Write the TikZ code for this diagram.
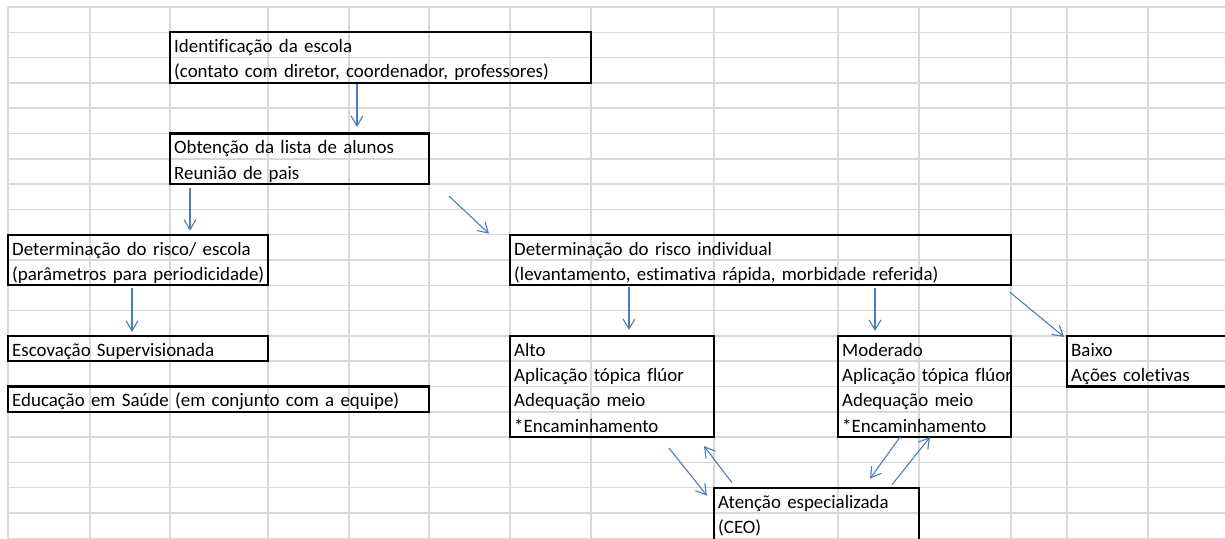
\documentclass[tikz,border=0pt]{standalone}
\usepackage{fontspec}
\setmainfont[Ligatures=CommonOff]{Carlito}
\usetikzlibrary{arrows.meta,calc}
\definecolor{grade}{RGB}{217,217,217}
\definecolor{azul}{RGB}{74,126,187}
\tikzset{
	caixa/.style={draw=black, line width=2.2pt, anchor=north west, inner sep=0pt, outer sep=0pt},
	texto/.style={anchor=base west, inner sep=0pt, align=left, text width=600pt,
		font=\fontsize{18.9}{25.3}\selectfont},
	seta/.style={draw=azul, line width=1.1pt, -{Straight Barb[length=10pt,width=12pt]}},
	linha/.style={draw=grade, line width=1.5pt}
}
\begin{document}
\begin{tikzpicture}[x=1pt, y=-1pt]
	\useasboundingbox (0,0) rectangle (1225,538);
	\clip (0,0) rectangle (1225,538);
	% Gitter der Tabelle
	\foreach \k in {0,...,21}
		\draw[linha] (8, 7+25.3*\k) -- (1225, 7+25.3*\k);
	\foreach \x in {8,90,170,268,349,429,510,591,714,838,919,1011,1067,1148}
		\draw[linha] (\x, 7) -- (\x, 538);

	% Kaesten
	\node[caixa, minimum width=421pt, minimum height=50.6pt] (ident) at (170, 32.3) {};
	\node[caixa, minimum width=259pt, minimum height=50.6pt] (lista) at (170, 133.5) {};
	\node[caixa, minimum width=260pt, minimum height=50.6pt] (rescola) at (8, 234.7) {};
	\node[caixa, minimum width=501pt, minimum height=50.6pt] (rindiv) at (510, 234.7) {};
	\node[caixa, minimum width=260pt, minimum height=25.3pt] (escov) at (8, 335.9) {};
	\node[caixa, minimum width=421pt, minimum height=25.3pt] (educ) at (8, 386.5) {};
	\node[caixa, minimum width=204pt, minimum height=101.2pt] (alto) at (510, 335.9) {};
	\node[caixa, minimum width=173pt, minimum height=101.2pt] (moder) at (838, 335.9) {};
	\node[caixa, minimum width=200pt, minimum height=50.6pt] (baixo) at (1067, 335.9) {};
	\node[caixa, minimum width=205pt, minimum height=80pt] (ceo) at (714, 487.7) {};

	% Texte
	\node[texto] (identtxt) at ($(ident.north west)+(4,20.3)$)
		{Identificação da escola\\(contato com diretor, coordenador, professores)};
	\node[texto] (listatxt) at ($(lista.north west)+(4,20.3)$)
		{Obtenção da lista de alunos\\Reunião de pais};
	\node[texto] (rescolatxt) at ($(rescola.north west)+(4,20.3)$)
		{Determinação do risco/ escola\\(parâmetros para periodicidade)};
	\node[texto] (rindivtxt) at ($(rindiv.north west)+(4,20.3)$)
		{Determinação do risco individual\\(levantamento, estimativa rápida, morbidade referida)};
	\node[texto] (escovtxt) at ($(escov.north west)+(4,20.3)$) {Escovação Supervisionada};
	\node[texto] (eductxt) at ($(educ.north west)+(4,20.3)$) {Educação em Saúde (em conjunto com a equipe)};
	\node[texto] (altotxt) at ($(alto.north west)+(4,20.3)$)
		{Alto\\Aplicação tópica flúor\\Adequação meio\\{*}Encaminhamento};
	\node[texto] (modertxt) at ($(moder.north west)+(4,20.3)$)
		{Moderado\\Aplicação tópica flúor\\Adequação meio\\{*}Encaminhamento};
	\node[texto] (baixotxt) at ($(baixo.north west)+(4,20.3)$) {Baixo\\Ações coletivas};
	\node[texto] (ceotxt) at ($(ceo.north west)+(4,20.3)$) {Atenção especializada\\(CEO)};

	% Pfeile
	\draw[seta] ($(ident.south west)+(187,1.5)$) -- ($(lista.north west)+(187,-6.5)$);
	\draw[seta] ($(lista.south west)+(20,4)$) -- ($(rescola.north west)+(182,-4)$);
	\draw[seta] ($(lista.south east)+(20,12)$) -- ($(rindiv.north west)+(-21,-1)$);
	\draw[seta] ($(rescola.south west)+(124,3)$) -- ($(escov.north west)+(124,-4)$);
	\draw[seta] ($(rindiv.south west)+(119,2)$) -- ($(alto.north west)+(119,-6)$);
	\draw[seta] ($(rindiv.south west)+(365,3)$) -- ($(moder.north west)+(37,-5)$);
	\draw[seta] ($(rindiv.south east)+(-1,7)$) -- ($(baixo.north west)+(-3,1)$);
	\draw[seta] ($(alto.south west)+(159,11)$) -- ($(ceo.north west)+(-7,8)$);
	\draw[seta] ($(ceo.north west)+(18,-5)$) -- ($(alto.south east)+(-10,9)$);
	\draw[seta] ($(moder.south west)+(62,0)$) -- ($(ceo.north west)+(156,-9)$);
	\draw[seta] ($(ceo.north west)+(178,-3)$) -- ($(moder.south west)+(92,0)$);
\end{tikzpicture}
\end{document}
